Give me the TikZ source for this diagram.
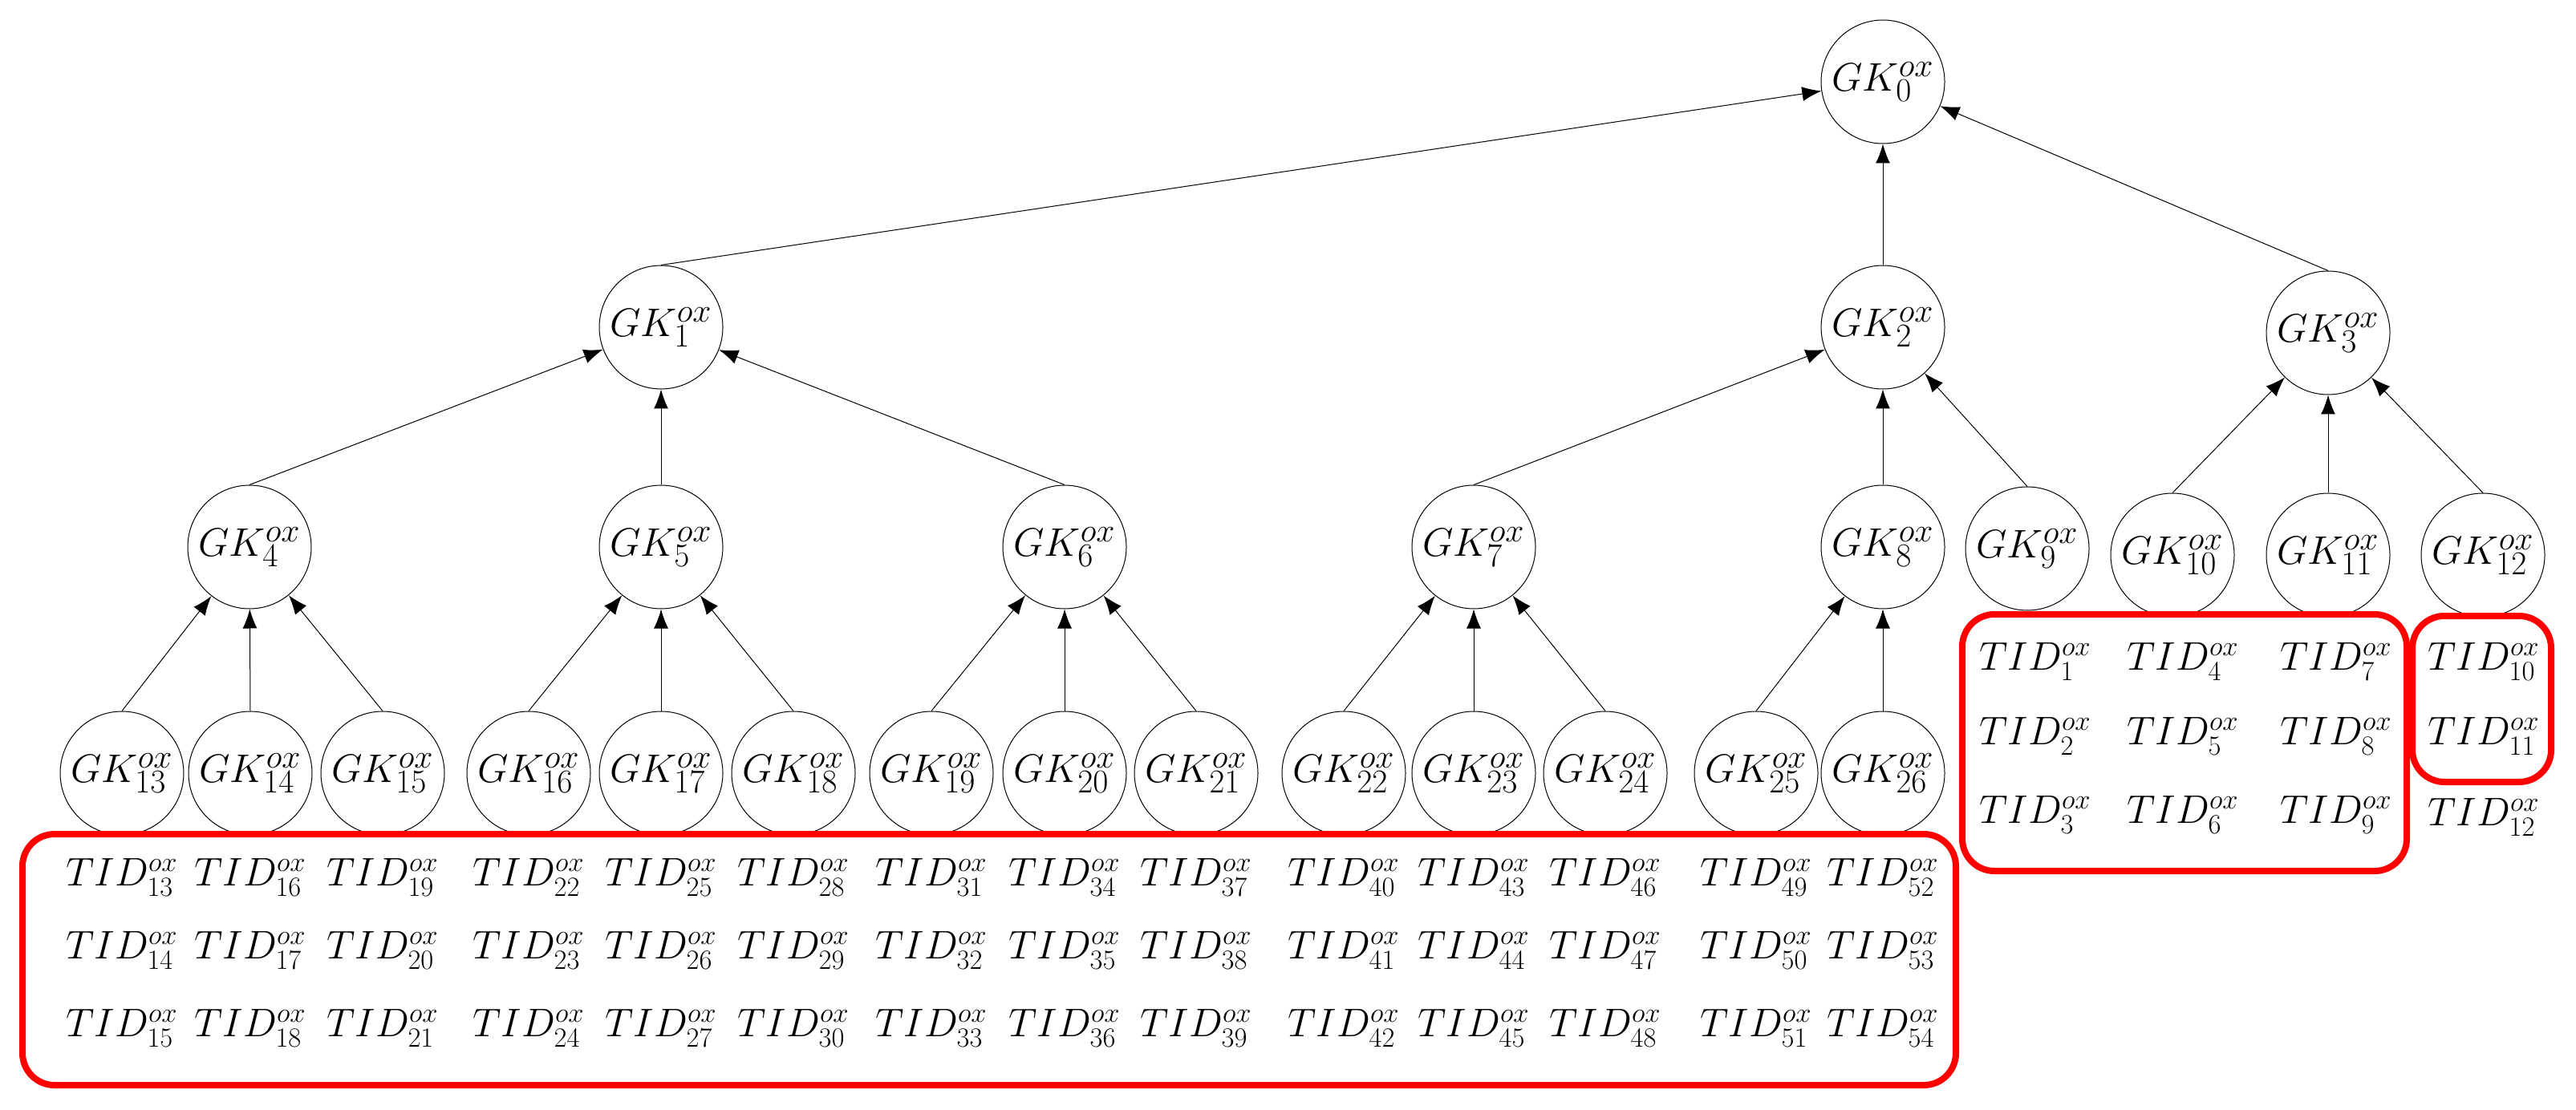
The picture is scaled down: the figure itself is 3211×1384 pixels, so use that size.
\documentclass[tikz,border=0pt]{standalone}
\usetikzlibrary{arrows.meta}
\begin{document}
\begin{tikzpicture}[x=0.5pt,y=-0.5pt,
  gk/.style={circle,draw,line width=0.5pt,minimum size=77pt,inner sep=0pt,font=\fontsize{28}{30}\selectfont},
  tid/.style={inner sep=0pt,font=\fontsize{26}{28}\selectfont},
  edge/.style={line width=0.5pt,-{Latex[length=12pt,width=9pt]}},
  grp/.style={draw=red,line width=4pt,rounded corners=20pt}]
\useasboundingbox (0,0) rectangle (3211,1384);
% level 0-2
\node[gk] (g0) at (2347,102) {$GK_0^{ox}$};
\node[gk] (g1) at (824,408) {$GK_1^{ox}$};
\node[gk] (g2) at (2347,408) {$GK_2^{ox}$};
\node[gk] (g3) at (2902,415) {$GK_3^{ox}$};
\foreach \i/\x in {4/311,5/824,6/1327,7/1837,8/2347}{
  \node[gk] (g\i) at (\x,682) {$GK_{\i}^{ox}$};}
\node[gk] (g9) at (2527,684) {$GK_9^{ox}$};
\foreach \i/\x in {10/2708,11/2902,12/3095}{
  \node[gk] (g\i) at (\x,692) {$GK_{\i}^{ox}$};}
\foreach \i/\x in {13/152,14/312,15/477,16/659,17/824,18/989,19/1161,20/1327,21/1491,22/1675,23/1837,24/2001,25/2189,26/2347}{
  \node[gk] (g\i) at (\x,964) {$GK_{\i}^{ox}$};}
% edges
\foreach \c/\p in {1/0,2/0,3/0,4/1,5/1,6/1,7/2,8/2,9/2,10/3,11/3,12/3,13/4,14/4,15/4,16/5,17/5,18/5,19/6,20/6,21/6,22/7,23/7,24/7,25/8,26/8}{
  \draw[edge] (g\c.north) -- (g\p);}
% TIDs big box
\foreach \x [count=\k from 0] in {152,312,477,659,824,989,1161,1327,1491,1675,1837,2001,2189,2347}{
  \pgfmathtruncatemacro{\a}{13+3*\k}
  \pgfmathtruncatemacro{\b}{14+3*\k}
  \pgfmathtruncatemacro{\c}{15+3*\k}
  \node[tid] (t\a) at (\x,1094) {$TID_{\a}^{ox}$};
  \node[tid] (t\b) at (\x,1185) {$TID_{\b}^{ox}$};
  \node[tid] (t\c) at (\x,1282) {$TID_{\c}^{ox}$};}
\foreach \x [count=\k from 0] in {2537,2721,2912}{
  \pgfmathtruncatemacro{\a}{1+3*\k}
  \pgfmathtruncatemacro{\b}{2+3*\k}
  \pgfmathtruncatemacro{\c}{3+3*\k}
  \node[tid] (t\a) at (\x,825) {$TID_{\a}^{ox}$};
  \node[tid] (t\b) at (\x,918) {$TID_{\b}^{ox}$};
  \node[tid] (t\c) at (\x,1016) {$TID_{\c}^{ox}$};}
\node[tid] (t10) at (3096,825) {$TID_{10}^{ox}$};
\node[tid] (t11) at (3096,918) {$TID_{11}^{ox}$};
\node[tid] (t12) at (3096,1019) {$TID_{12}^{ox}$};
% group boxes
\draw[grp] (28,1040) rectangle (2438,1353);
\draw[grp] (2446,766) rectangle (3000,1086);
\draw[grp] (3007,768) rectangle (3180,975);
\end{tikzpicture}
\end{document}
